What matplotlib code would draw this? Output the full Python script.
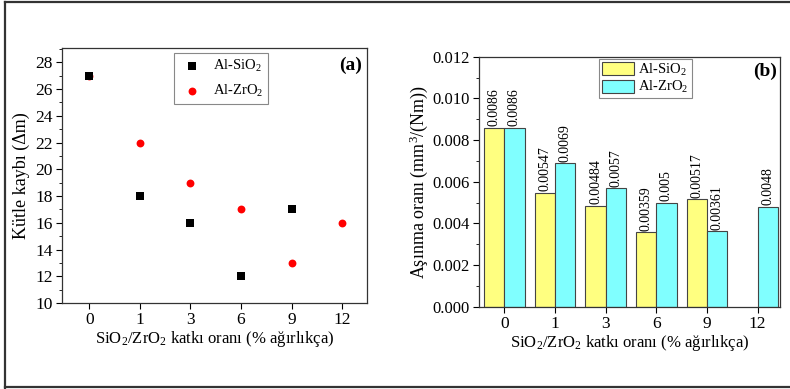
import matplotlib
matplotlib.use("Agg")
import matplotlib.pyplot as plt
import numpy as np
from matplotlib.lines import Line2D
from matplotlib.ticker import MultipleLocator, FormatStrFormatter

plt.rcParams['font.family'] = ['Liberation Serif', 'DejaVu Serif']
plt.rcParams['mathtext.fontset'] = 'custom'
plt.rcParams['mathtext.rm'] = 'Liberation Serif'
plt.rcParams['mathtext.default'] = 'rm'

categories = ['0', '1', '3', '6', '9', '12']
mass_sio2 = [27, 18, 16, 12, 17]
mass_zro2 = [27, 22, 19, 17, 13, 16]
wear_sio2 = [0.0086, 0.00547, 0.00484, 0.00359, 0.00517]
wear_zro2 = [0.0086, 0.0069, 0.0057, 0.005, 0.00361, 0.0048]

xlabel = 'SiO$_2$/ZrO$_2$ katkı oranı (% ağırlıkça)'

fig = plt.figure(figsize=(7.9, 3.89), dpi=100)

# outer frame
for xs, ys in [([4.5/790, 4.5/790], [1.5/389, 387.5/389]),
               ([4.5/790, 1.2], [387.5/389, 387.5/389]),
               ([4.5/790, 1.2], [2.0/389, 2.0/389])]:
    fig.add_artist(Line2D(xs, ys, transform=fig.transFigure, color='#333333', lw=1.6))

# ---- panel (a)
axa = fig.add_axes([62/790, 86/389, 305/790, 255/389])
xa_s = np.arange(len(mass_sio2))
xa_z = np.arange(len(mass_zro2))
axa.scatter(xa_z, mass_zro2, s=32, c='#ff0000', marker='o', label='Al-ZrO$_2$', zorder=3, linewidths=0)
axa.scatter(xa_s, mass_sio2, s=26, c='black', marker='s', label='Al-SiO$_2$', zorder=4, linewidths=0)
axa.set_xlim(-0.54, 5.49)
axa.set_ylim(10, 29.07)
axa.set_xticks(np.arange(len(categories)))
axa.set_xticklabels(categories)
axa.yaxis.set_major_locator(MultipleLocator(2))
axa.yaxis.set_minor_locator(MultipleLocator(1))
axa.tick_params(axis='both', which='major', direction='out', length=4, width=0.8, labelsize=12.5, pad=2.5)
axa.tick_params(axis='y', which='minor', direction='out', length=2, width=0.6)
axa.set_ylabel('Kütle kaybı (Δm)', fontsize=13)
axa.yaxis.set_label_coords(-0.105, 0.5)
axa.set_xlabel(xlabel, fontsize=12, labelpad=1)
h, l = axa.get_legend_handles_labels()
lega = axa.legend(h[::-1], l[::-1], loc='upper left', bbox_to_anchor=(0.367, 0.98), fontsize=10.5,
                  frameon=True, fancybox=False, edgecolor='#888888', framealpha=1,
                  handletextpad=0.5, borderpad=0.35, labelspacing=0.6, handlelength=1.8,
                  borderaxespad=0)
lega.get_frame().set_linewidth(0.8)
axa.text(0.985, 0.965, '(a)', transform=axa.transAxes, ha='right', va='top',
         fontsize=14, fontweight='bold')
for sp in axa.spines.values():
    sp.set_color('#333333')
    sp.set_linewidth(0.9)

# ---- panel (b)
axb = fig.add_axes([478.7/790, 82.3/389, 301.3/790, 250/389])
w = 0.40
xb_s = np.arange(len(wear_sio2))
xb_z = np.arange(len(wear_zro2))
bs = axb.bar(xb_s - w/2, wear_sio2, width=w, color='#ffff80', edgecolor='#444444', lw=0.8, label='Al-SiO$_2$')
bz = axb.bar(xb_z + w/2, wear_zro2, width=w, color='#80ffff', edgecolor='#444444', lw=0.8, label='Al-ZrO$_2$')
axb.bar_label(bs, labels=['%g' % v for v in wear_sio2], rotation=90, padding=1, fontsize=10)
axb.bar_label(bz, labels=['%g' % v for v in wear_zro2], rotation=90, padding=1, fontsize=10)
axb.set_xlim(-0.505, 5.44)
axb.set_ylim(0, 0.012)
axb.set_xticks(np.arange(len(categories)))
axb.set_xticklabels(categories)
axb.yaxis.set_major_locator(MultipleLocator(0.002))
axb.yaxis.set_minor_locator(MultipleLocator(0.001))
axb.yaxis.set_major_formatter(FormatStrFormatter('%.3f'))
axb.tick_params(axis='x', which='major', direction='out', length=4, width=0.8, labelsize=12.5, pad=2.5)
axb.tick_params(axis='y', which='major', direction='out', length=4, width=0.8, labelsize=12, pad=2.5)
axb.tick_params(axis='y', which='minor', direction='out', length=2, width=0.6)
axb.set_ylabel('Aşınma oranı (mm$^3$/(Nm))', fontsize=13)
axb.yaxis.set_label_coords(-0.162, 0.5)
axb.set_xlabel(xlabel, fontsize=12, labelpad=1)
legb = axb.legend(loc='upper left', bbox_to_anchor=(0.399, 0.991), fontsize=10.5,
                  frameon=True, fancybox=False, edgecolor='#888888', framealpha=1,
                  handletextpad=0.3, borderpad=0.2, labelspacing=0.08, handlelength=2.2,
                  handleheight=1.0, borderaxespad=0)
legb.get_frame().set_linewidth(0.8)
axb.text(0.99, 0.975, '(b)', transform=axb.transAxes, ha='right', va='top',
         fontsize=14, fontweight='bold')
for sp in axb.spines.values():
    sp.set_color('#333333')
    sp.set_linewidth(0.9)

for ax in (axa, axb):
    for lab in ax.get_xticklabels() + ax.get_yticklabels():
        lab.set_fontfamily('Liberation Serif')

fig.savefig('out.png', dpi=100, facecolor='white')
